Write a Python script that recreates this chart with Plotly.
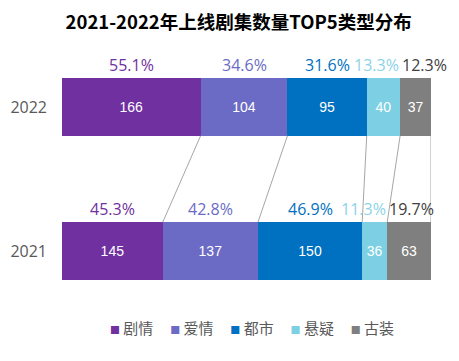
import plotly.graph_objects as go

categories = ["剧情", "爱情", "都市", "悬疑", "古装"]
years = ["2021", "2022"]
counts_2021 = [145, 137, 150, 36, 63]
counts_2022 = [166, 104, 95, 40, 37]
pct_2021 = ["45.3%", "42.8%", "46.9%", "11.3%", "19.7%"]
pct_2022 = ["55.1%", "34.6%", "31.6%", "13.3%", "12.3%"]
colors = ["#7030A0", "#6B6BC5", "#0070C0", "#7DD0E3", "#7F7F7F"]
label_colors = ["#7030A0", "#6B6BC5", "#0070C0", "#8DD3E8", "#404040"]
title = "2021-2022年上线剧集数量TOP5类型分布"

LATIN = "Open Sans, Noto Sans CJK SC, sans-serif"
BAR_W = 0.4

fig = go.Figure()
for i, cat in enumerate(categories):
    fig.add_trace(go.Bar(
        y=years, x=[counts_2021[i], counts_2022[i]], name=cat, orientation="h",
        marker=dict(color=colors[i], line=dict(width=0)),
        text=[str(counts_2021[i]), str(counts_2022[i])], texttemplate="%{text}",
        textposition="inside", insidetextanchor="middle", textangle=0,
        textfont=dict(color="white", size=14, family="Liberation Sans, Arial, sans-serif"),
        showlegend=False, hoverinfo="skip",
    ))

def cum_pct(vals):
    tot = sum(vals)
    out, c = [0.0], 0
    for v in vals:
        c += v
        out.append(c / tot * 100)
    return out

cum21 = cum_pct(counts_2021)
cum22 = cum_pct(counts_2022)

n = len(categories)
annotations = []
for yi, (cum, pcts) in enumerate([(cum21, pct_2021), (cum22, pct_2022)]):
    for i in range(n):
        if i == n - 1:
            x, anchor, shift = cum[i], "left", 0
        elif i == n - 2:
            x, anchor, shift = cum[i + 1], "right", 1
        else:
            x, anchor, shift = (cum[i] + cum[i + 1]) / 2, "center", 0
        annotations.append(dict(
            x=x, y=yi + BAR_W / 2, xref="x", yref="y", xanchor=anchor, xshift=shift,
            text=pcts[i], showarrow=False, yanchor="bottom", yshift=0,
            font=dict(family=LATIN, size=16, color=label_colors[i]),
        ))

shapes = []
for k in range(1, n + 1):
    shapes.append(dict(type="line", xref="x", yref="y",
                       x0=cum22[k], y0=1 - BAR_W / 2, x1=cum21[k], y1=BAR_W / 2,
                       line=dict(color="#A6A6A6", width=1), layer="above"))

legend_parts = []
for i, cat in enumerate(categories):
    legend_parts.append(f"<span style='color:{colors[i]};font-size:10px'>■</span>&nbsp;{cat}")
annotations.append(dict(
    x=0.515, y=-0.014, xref="paper", yref="paper", xanchor="center", yanchor="middle",
    text="&nbsp;&nbsp;&nbsp;&nbsp;&nbsp;".join(legend_parts), showarrow=False,
    font=dict(family="Noto Sans CJK SC, sans-serif", size=15, color="#595959"),
))

fig.update_layout(
    barmode="stack", barnorm="percent", bargap=0.6,
    width=459, height=361, margin=dict(l=62, r=28, t=35, b=38),
    paper_bgcolor="white", plot_bgcolor="white",
    title=dict(text=f"<b>{title}</b>", x=0.52, xanchor="center", y=1 - 23 / 361,
               yanchor="middle", yref="container",
               font=dict(family="Noto Sans CJK SC, sans-serif", size=18.5, color="#000000")),
    xaxis=dict(range=[0, 100], visible=False, fixedrange=True, automargin=False),
    yaxis=dict(type="category", categoryorder="array", categoryarray=years,
               range=[-0.5, 1.5], showgrid=False, zeroline=False, showline=False,
               ticks="", ticklabelstandoff=14, automargin=False,
               tickfont=dict(family=LATIN, size=16, color="#595959")),
    annotations=annotations, shapes=shapes,
)

fig.write_html("out.html", config={"displayModeBar": False},
               post_script="document.body.style.margin='0px';document.body.style.overflow='hidden';")
